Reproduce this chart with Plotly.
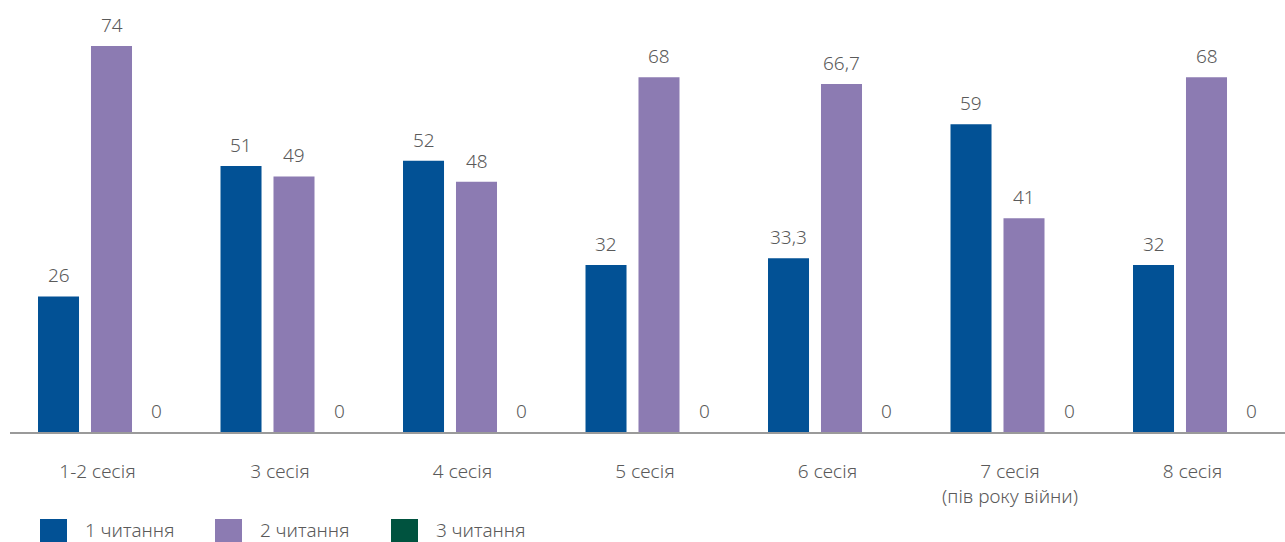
import plotly.graph_objects as go

categories = ["1-2 сесія", "3 сесія", "4 сесія", "5 сесія", "6 сесія",
              "7 сесія<br>(пів року війни)", "8 сесія"]
series_names = ["1 читання", "2 читання", "3 читання"]
reading1 = [26, 51, 52, 32, 33.3, 59, 32]
reading2 = [74, 49, 48, 68, 66.7, 41, 68]
reading3 = [0, 0, 0, 0, 0, 0, 0]
colors = ["#025195", "#8c7bb2", "#00533f"]

series = [reading1, reading2, reading3]

W, H = 1285, 542
ML, MR, MT, MB = 10, 0, 0, 110
plot_w = W - ML - MR
plot_h = H - MT - MB

FONT = "Source Sans Pro, Noto Sans, Open Sans, sans-serif"
TXT = "#5a5a5a"

def fmt(v):
    s = ("%g" % v)
    return s.replace(".", ",")

fig = go.Figure()
for name, vals, col in zip(series_names, series, colors):
    fig.add_trace(go.Bar(x=categories, y=vals, name=name, marker_color=col,
                         marker_line_width=0, showlegend=False))

slot = 0.2904
anns = []
for j, vals in enumerate(series):
    for i, v in enumerate(vals):
        anns.append(dict(x=i + (j - 1) * slot, y=v, xref="x", yref="y",
                         text=fmt(v), showarrow=False, yanchor="middle",
                         yshift=21, xshift=-8 if j == 2 else 0,
                         font=dict(family=FONT, size=19, color=TXT,
                                   weight=300)))

# legend (custom, large swatches)
leg_x = [40, 215, 391]
for k, (name, col) in enumerate(zip(series_names, colors)):
    x0 = (leg_x[k] - ML) / plot_w
    x1 = (leg_x[k] + 27 - ML) / plot_w
    y0 = (plot_h - 519) / plot_h
    y1 = (plot_h - 543) / plot_h
    fig.add_shape(type="rect", xref="paper", yref="paper", x0=x0, x1=x1,
                  y0=y1, y1=y0, fillcolor=col, line_width=0)
    anns.append(dict(x=(leg_x[k] + 43 - ML) / plot_w, y=(plot_h - 530) / plot_h,
                     xref="paper", yref="paper", text=name, showarrow=False,
                     xanchor="left", yanchor="middle",
                     font=dict(family=FONT, size=19, color=TXT, weight=300)))

scale = 182.5
r0 = -(111.5 - ML) / scale
r1 = r0 + plot_w / scale

fig.update_layout(
    width=W, height=H,
    margin=dict(l=ML, r=MR, t=MT, b=MB),
    barmode="group", bargap=0.129, bargroupgap=0.226,
    plot_bgcolor="white", paper_bgcolor="white",
    font=dict(family=FONT, size=19, color=TXT, weight=300),
    annotations=anns,
    xaxis=dict(range=[r0, r1], showgrid=False, showline=True,
               linecolor="#9a9a9a", linewidth=2, ticks="",
               ticklabelstandoff=21, ticklabelshift=-14,
               tickfont=dict(family=FONT, size=19, color=TXT, weight=300)),
    yaxis=dict(range=[0, plot_h / 5.216], visible=False, showgrid=False,
               zeroline=False),
)

fig.write_html("out.html")
